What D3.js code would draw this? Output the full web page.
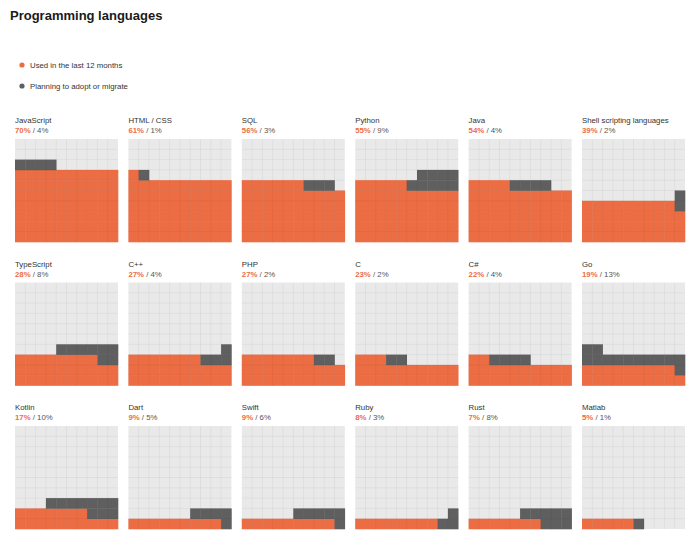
<!DOCTYPE html>
<meta charset="utf-8">
<script src="https://d3js.org/d3.v7.min.js"></script>
<style>
  body { margin: 0; background: #fff; }
  svg text { font-family: "Liberation Sans", Arial, sans-serif; }
</style>
<svg id="chart" width="700" height="538"></svg>
<script>

// data
var languages = ["JavaScript", "HTML / CSS", "SQL", "Python", "Java", "Shell scripting languages",
                 "TypeScript", "C++", "PHP", "C", "C#", "Go",
                 "Kotlin", "Dart", "Swift", "Ruby", "Rust", "Matlab"];
var used     = [70, 61, 56, 55, 54, 39, 28, 27, 27, 23, 22, 19, 17, 9, 9, 8, 7, 5];
var planning = [ 4,  1,  3,  9,  4,  2,  8,  4,  2,  2,  4, 13, 10, 5, 6, 3, 8, 1];
var seriesNames = ["Used in the last 12 months", "Planning to adopt or migrate"];

var orange = "#ec6d43", grey = "#5f5f5f";

var svg = d3.select("#chart");

// title
svg.append("text")
  .attr("x", 10).attr("y", 20)
  .text("Programming languages")
  .style("font-size", "13px")
  .style("font-weight", "700")
  .style("fill", "#1a1a1a");

// legend
var legend = svg.selectAll(".legend")
  .data(seriesNames)
  .enter().append("g")
    .attr("transform", function(d, i){ return "translate(22," + (65 + i * 21) + ")" });
legend.append("circle")
  .attr("r", 2.6)
  .style("fill", function(d, i){ return i == 0 ? orange : grey });
legend.append("text")
  .attr("x", 8).attr("dy", "0.35em")
  .text(function(d){ return d })
  .style("font-size", "7.8px")
  .style("fill", "#333");

// panel layout
var size = 103;
var col = d3.scaleBand().domain(d3.range(6)).range([15, 15 + 113.4 * 6]);
var row = d3.scaleBand().domain(d3.range(3)).range([139, 139 + 143.5 * 3]);
var cx = d3.scaleLinear().domain([0, 10]).range([0, size]);
var cy = d3.scaleLinear().domain([0, 10]).range([size, 0]);

// cell positions: orange row by row from the bottom, grey snakes on from where orange ends
function cells(o, g) {
  var out = [];
  for (var i = 0; i < o; i++) out.push({ r: Math.floor(i / 10), c: i % 10, s: 0 });
  var start = Math.floor(o / 10);
  for (var j = 0; j < g; j++) {
    var k = (o % 10) + j, rel = Math.floor(k / 10);
    out.push({ r: start + rel, c: rel % 2 == 0 ? k % 10 : 9 - k % 10, s: 1 });
  }
  return out;
}

var panels = svg.selectAll(".panel")
  .data(languages.map(function(d, i){ return { name: d, used: used[i], plan: planning[i], i: i } }))
  .enter().append("g")
    .attr("class", "panel")
    .attr("transform", function(d){ return "translate(" + col(d.i % 6) + "," + row(Math.floor(d.i / 6)) + ")" });

panels.append("text")
  .attr("y", -16)
  .text(function(d){ return d.name })
  .style("font-size", "7.8px")
  .style("fill", "#333");

var pct = panels.append("text")
  .attr("y", -6)
  .style("font-size", "7.8px");
pct.append("tspan")
  .text(function(d){ return d.used + "%" })
  .style("fill", orange)
  .style("font-weight", "700");
pct.append("tspan")
  .text(function(d){ return " / " + d.plan + "%" })
  .style("fill", "#555");

panels.append("rect")
  .attr("width", size).attr("height", size)
  .style("fill", "#e9e9e9");

panels.each(function(d) {
  d3.select(this).selectAll(".cell")
    .data(cells(d.used, d.plan))
    .enter().append("rect")
      .attr("x", function(c){ return cx(c.c) })
      .attr("y", function(c){ return cy(c.r + 1) })
      .attr("width", cx(1) + 0.3)
      .attr("height", cy(0) - cy(1) + 0.3)
      .style("fill", function(c){ return c.s == 0 ? orange : grey });
});

// faint grid on top
var ticks = d3.range(1, 10);
panels.selectAll(".vline")
  .data(ticks).enter().append("line")
    .attr("x1", cx).attr("x2", cx)
    .attr("y1", 0).attr("y2", size)
    .style("stroke", "rgba(0,0,0,0.045)").style("stroke-width", 1);
panels.selectAll(".hline")
  .data(ticks).enter().append("line")
    .attr("y1", cy).attr("y2", cy)
    .attr("x1", 0).attr("x2", size)
    .style("stroke", "rgba(0,0,0,0.045)").style("stroke-width", 1);

</script>
